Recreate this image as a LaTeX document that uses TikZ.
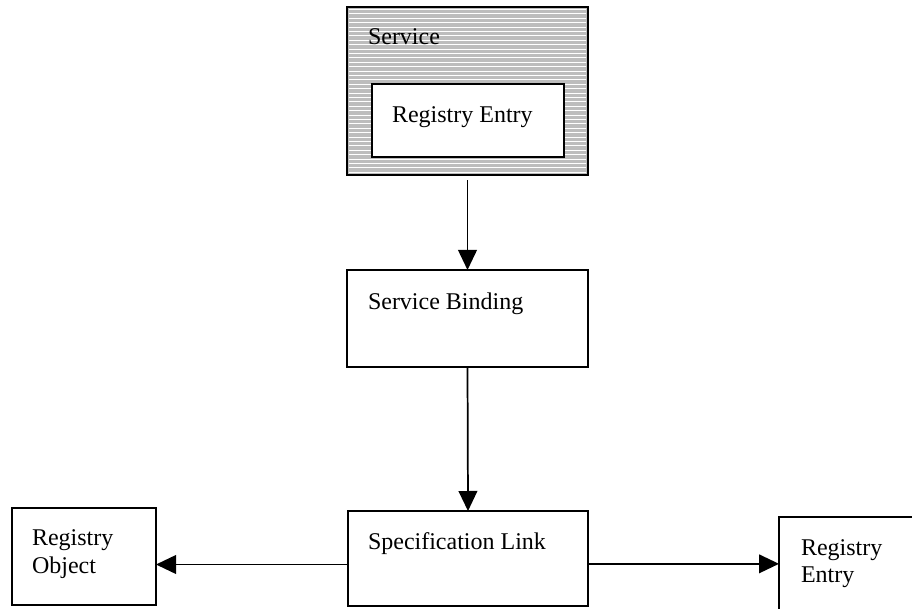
\documentclass[tikz,border=0pt]{standalone}
\usepackage{fontspec}
\setmainfont{Liberation Serif}
\usetikzlibrary{arrows.meta,calc}
\definecolor{hatchgray}{HTML}{BDBDBD}
\tikzset{
  boxstyle/.style={draw=black, line width=1.4pt, fill=white, inner sep=0pt, outer sep=0pt, rectangle},
  lbl/.style={anchor=base west, inner sep=0pt, outer sep=0pt, font=\fontsize{18pt}{21pt}\selectfont},
  arr/.style={line width=1.3pt, -{Triangle[length=15pt,width=14pt]}},
}
\begin{document}
\begin{tikzpicture}[x=0.75pt,y=-0.75pt]
\clip (0,0) rectangle (912,609);
\fill[white] (0,0) rectangle (912,609);
% Service box with horizontal hatching
\node[boxstyle, fill=hatchgray, minimum width=180.75pt, minimum height=126pt] (service) at (467.5,91) {};
\begin{scope}
  \clip (349,9) rectangle (586,173);
  \foreach \i in {0,...,38} {
    \draw[white, line width=0.6pt] (345,{9.5+4.4*\i}) -- (590,{9.5+4.4*\i});
  }
\end{scope}
\draw[line width=1.6pt] (service.south west) rectangle (service.north east);
\node[boxstyle, minimum width=144pt, minimum height=54.75pt] (inner) at (468,120.5) {};
\node[lbl] (servicelbl) at (368,45) {Service};
\node[lbl] (innerlbl) at (392,123) {Registry Entry};
% Service Binding
\node[boxstyle, minimum width=180.75pt, minimum height=72.75pt] (binding) at (467.5,318.5) {};
\node[lbl] (bindinglbl) at (368,309) {Service Binding};
% Specification Link
\node[boxstyle, minimum width=180pt, minimum height=71.25pt] (spec) at (468,558.5) {};
\node[lbl] (speclbl) at (368,549) {Specification Link};
% Registry Object
\node[boxstyle, minimum width=108pt, minimum height=72.75pt] (robj) at (84,556.5) {};
\node[lbl] (robjlbla) at (32,545) {Registry};
\node[lbl] (robjlblb) at (32,573) {Object};
% Registry Entry (right, cut off)
\node[boxstyle, minimum width=120.75pt, minimum height=92.25pt] (rentry) at (859.5,578.5) {};
\node[lbl] (rentrylbla) at (801,555) {Registry};
\node[lbl] (rentrylblb) at (801,582) {Entry};
% Connectors
\draw[arr] ([yshift=-4pt]service.south) -- (binding.north);
\draw[arr] (binding.south) -- (spec.north);
\draw[arr] ([yshift=-4.5pt]spec.west) -- ([yshift=-4.5pt]spec.west -| robj.east);
\draw[arr] ([yshift=-4pt]spec.east) -- ([yshift=-4pt]spec.east -| rentry.west);
\end{tikzpicture}
\end{document}
